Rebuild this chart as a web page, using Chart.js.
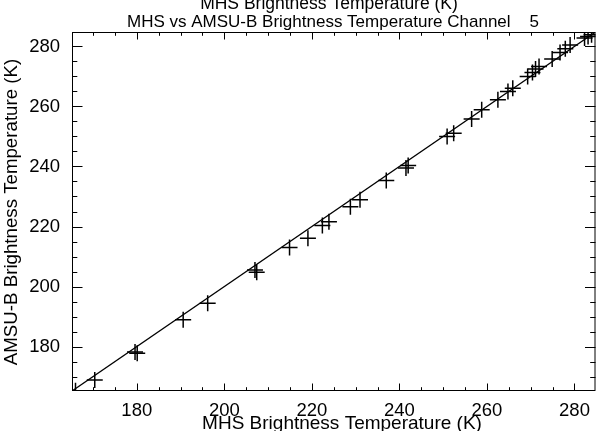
<!DOCTYPE html>
<html>
<head>
<meta charset="utf-8">
<script src="https://cdn.jsdelivr.net/npm/chart.js@4"></script>
<style>
  body { margin: 0; background: #fff; }
  canvas { display: block; }
</style>
</head>
<body>
<canvas id="scatterChart" width="605" height="431"></canvas>
<script>
  // MHS (x) vs AMSU-B (y) brightness temperatures, channel 5
  const mhsTemps = [166.0, 170.4, 179.6, 180.1, 190.6, 196.2, 207.0, 207.4, 214.9, 219.1,
    222.4, 223.9, 228.8, 231.0, 237.0, 241.5, 242.0, 250.9, 252.4, 256.5,
    258.8, 262.5, 264.8, 265.9, 269.3, 270.4, 271.1, 271.9, 274.9, 276.7,
    277.9, 279.0, 282.3, 283.1, 283.9];
  const amsubTemps = [165.3, 168.9, 178.2, 177.8, 188.9, 194.4, 205.5, 204.8, 213.0, 216.1,
    220.3, 221.6, 226.6, 228.9, 235.3, 239.5, 240.3, 250.0, 251.1, 255.8,
    258.9, 262.2, 265.0, 266.1, 270.0, 271.3, 272.5, 273.3, 275.8, 278.0,
    279.2, 280.5, 282.8, 283.3, 283.9];
  // one-to-one reference line
  const oneToOneX = [165.2, 284.8];
  const oneToOneY = [165.2, 284.8];
  const axisMin = 165.2;
  const axisMax = 284.8;
  const tickLabels = [180, 200, 220, 240, 260, 280];

  const mainTitle = 'MHS Brightness Temperature (K)';
  const subTitle = 'MHS vs AMSU-B Brightness Temperature Channel    5';
  const xTitle = 'MHS Brightness Temperature (K)';
  const yTitle = 'AMSU-B Brightness Temperature (K)';

  const FAMILY = '"Liberation Sans", Arial, sans-serif';

  // IDL style frame: box with inward ticks on all four sides, plus titles
  const idlFrame = {
    id: 'idlFrame',
    afterDraw(chart) {
      const { ctx, chartArea: a, scales: { x, y } } = chart;
      ctx.save();
      ctx.strokeStyle = '#000';
      ctx.lineWidth = 1;
      ctx.strokeRect(a.left + 0.5, a.top + 0.5, a.right - a.left - 1, a.bottom - a.top - 1);

      ctx.beginPath();
      for (let v = Math.ceil(axisMin / 5) * 5; v <= axisMax; v += 5) {
        const major = v % 20 === 0;
        const xl = major ? 7.5 : 3.8;
        const yl = major ? 10.5 : 5.3;
        const px = Math.round(x.getPixelForValue(v)) + 0.5;
        ctx.moveTo(px, a.bottom); ctx.lineTo(px, a.bottom - xl);
        ctx.moveTo(px, a.top); ctx.lineTo(px, a.top + xl);
        const py = Math.round(y.getPixelForValue(v)) + 0.5;
        ctx.moveTo(a.left, py); ctx.lineTo(a.left + yl, py);
        ctx.moveTo(a.right, py); ctx.lineTo(a.right - yl, py);
      }
      ctx.stroke();

      ctx.fillStyle = '#000';
      ctx.textBaseline = 'alphabetic';

      ctx.font = '17.5px ' + FAMILY;
      ctx.textAlign = 'center';
      ctx.fillText(mainTitle, 329, 9);

      ctx.font = '17px ' + FAMILY;
      ctx.textAlign = 'left';
      ctx.fillText(subTitle, 127, 27);

      ctx.font = '19px ' + FAMILY;
      ctx.textAlign = 'center';
      ctx.fillText(xTitle, 342, 429);

      ctx.font = '18.7px ' + FAMILY;
      ctx.translate(17, 212);
      ctx.rotate(-Math.PI / 2);
      ctx.fillText(yTitle, 0, 0);
      ctx.restore();
    }
  };

  const ctx = document.getElementById('scatterChart').getContext('2d');
  new Chart(ctx, {
    type: 'scatter',
    data: {
      datasets: [{
        label: 'Channel 5',
        data: mhsTemps.map((t, i) => ({ x: t, y: amsubTemps[i] })),
        pointStyle: 'cross',
        pointRadius: 8,
        pointBorderWidth: 1.5,
        borderColor: '#000',
        backgroundColor: '#000',
        clip: 0
      }, {
        type: 'line',
        label: '1:1',
        data: oneToOneX.map((t, i) => ({ x: t, y: oneToOneY[i] })),
        borderColor: '#000',
        borderWidth: 1.3,
        pointRadius: 0,
        fill: false,
        clip: 0
      }]
    },
    options: {
      responsive: false,
      animation: false,
      layout: { padding: { top: 32, right: 1, left: 0, bottom: 0 } },
      plugins: {
        legend: { display: false },
        title: { display: false },
        tooltip: { enabled: false }
      },
      scales: {
        x: {
          type: 'linear',
          min: axisMin,
          max: axisMax,
          afterFit: (s) => { s.height = 40; },
          afterBuildTicks: (s) => { s.ticks = tickLabels.map(v => ({ value: v })); },
          grid: { display: false, drawTicks: false },
          border: { display: false },
          ticks: { padding: 9, color: '#000', font: { family: FAMILY, size: 18.5 } }
        },
        y: {
          type: 'linear',
          min: axisMin,
          max: axisMax,
          afterFit: (s) => { s.width = 72; },
          afterBuildTicks: (s) => { s.ticks = tickLabels.map(v => ({ value: v })); },
          grid: { display: false, drawTicks: false },
          border: { display: false },
          ticks: { padding: 12, color: '#000', font: { family: FAMILY, size: 18.5 } }
        }
      }
    },
    plugins: [idlFrame]
  });
</script>
</body>
</html>
